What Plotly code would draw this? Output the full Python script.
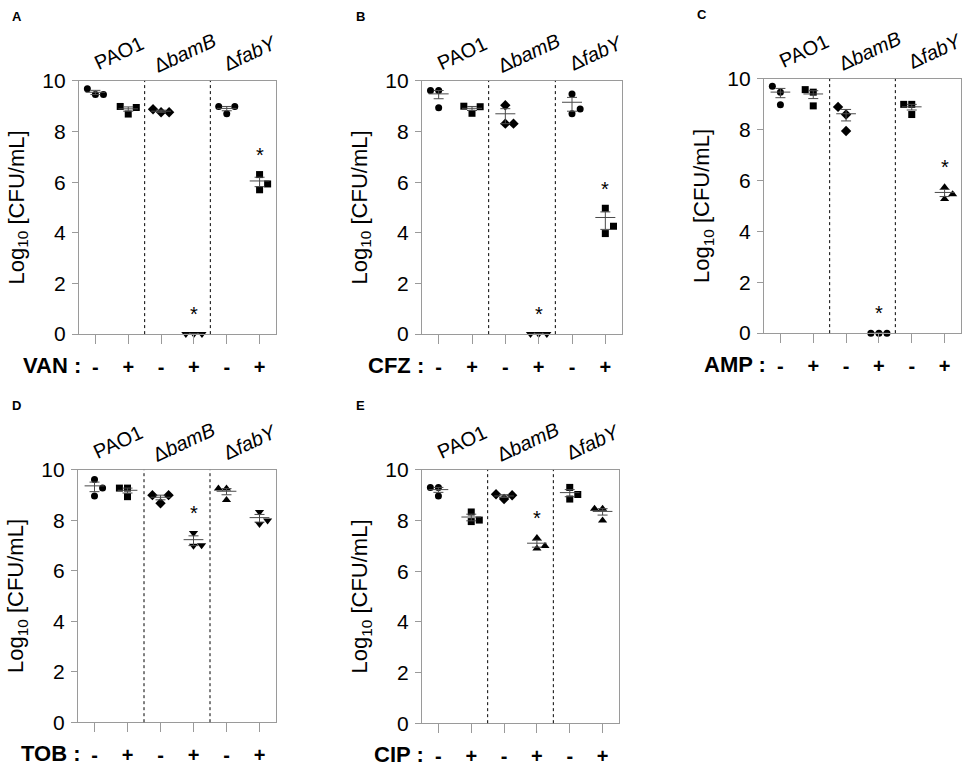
import numpy as np
import plotly.graph_objects as go

# ---- data (log10 CFU/mL, three replicates per group) ----
strains = ["PAO1", "Δ<i>bamB</i>", "Δ<i>fabY</i>"]
treat_labels = ["-", "+", "-", "+", "-", "+"]
drugs = ["VAN", "CFZ", "AMP", "TOB", "CIP"]
panel_letters = ["A", "B", "C", "D", "E"]

van = [[9.69, 9.46, 9.46], [8.99, 8.69, 8.95], [8.88, 8.76, 8.76],
       [0.0, 0.0, 0.0], [8.99, 8.70, 8.99], [6.30, 5.93, 5.70]]
cfz = [[9.62, 9.62, 8.94], [9.00, 8.72, 8.98], [9.04, 8.31, 8.31],
       [0.0, 0.0, 0.0], [9.48, 8.89, 8.70], [4.97, 4.26, 3.97]]
amp = [[9.71, 9.48, 8.98], [9.58, 9.48, 8.94], [8.90, 8.60, 7.95],
       [0.0, 0.0, 0.0], [9.00, 9.00, 8.60], [5.74, 5.28, 5.46]]
tob = [[9.62, 9.28, 8.97], [9.28, 9.28, 8.94], [9.00, 8.68, 9.00],
       [7.50, 6.99, 7.01], [9.26, 9.26, 8.81], [8.33, 7.86, 8.00]]
cip = [[9.31, 9.31, 8.97], [8.34, 7.96, 8.02], [9.04, 8.85, 9.00],
       [7.31, 6.90, 7.00], [9.31, 8.85, 9.03], [8.47, 8.47, 8.00]]

# groups marked with * (index into the six groups)
van_sig = [3, 5]
cfz_sig = [3, 5]
amp_sig = [3, 5]
tob_sig = [3]
cip_sig = [3]

panel_data = [van, cfz, amp, tob, cip]
panel_sig = [van_sig, cfz_sig, amp_sig, tob_sig, cip_sig]

# ---- styling ----
FONT = "Arial, Liberation Sans, sans-serif"
W, H = 964, 772
FRAME = "#9a9a9a"

# plot boxes in pixels: (left, right, top, bottom)
boxes = [(79, 276, 71, 332), (422, 622, 71, 332), (764, 961, 69, 331),
         (78, 276, 472, 732), (422, 619, 472, 733)]

symbols = [
    ["circle", "square", "diamond", "triangle-down", "circle", "square"],
    ["circle", "square", "diamond", "triangle-down", "circle", "square"],
    ["circle", "square", "diamond", "circle", "square", "triangle-up"],
    ["circle", "square", "diamond", "triangle-down", "triangle-up", "triangle-down"],
    ["circle", "square", "diamond", "triangle-up", "square", "triangle-up"],
]
sym_size = {"circle": 7, "square": 7, "diamond": 8,
            "triangle-up": 8, "triangle-down": 8}


def spread(vals, d=0.245, gap=0.33):
    """Simple beeswarm: keep points centred unless they would overlap."""
    order = sorted(range(len(vals)), key=lambda i: vals[i])
    placed, offs = [], [0.0] * len(vals)
    for rank, i in enumerate(order):
        prefs = [0.0, d, -d] if rank < 2 else [0.0, -d, d]
        for o in prefs:
            if all(abs(o - po) > 1e-9 or abs(vals[i] - pv) >= gap
                   for po, pv in placed):
                break
        offs[i] = o
        placed.append((o, vals[i]))
    return offs


def summary(vals):
    """Mean ± SEM on the CFU scale, returned as log10 values."""
    cfu = 10.0 ** np.asarray(vals)
    m = cfu.mean()
    s = cfu.std(ddof=1) / np.sqrt(len(cfu))
    lo = max(m - s, 1.0)
    return np.log10(m), np.log10(m + s), np.log10(lo)


fig = go.Figure()
annotations, shapes = [], []

for p, (data, sig) in enumerate(zip(panel_data, panel_sig)):
    n = p + 1
    xa = "x" if n == 1 else f"x{n}"
    ya = "y" if n == 1 else f"y{n}"
    xd = f"{xa} domain"
    yd = f"{ya} domain"

    # points
    for g, vals in enumerate(data):
        offs = spread(vals)
        sym = symbols[p][g]
        fig.add_trace(go.Scatter(
            x=[g + o for o in offs], y=vals, xaxis=xa, yaxis=ya,
            mode="markers", cliponaxis=False,
            marker=dict(symbol=sym, size=sym_size[sym], color="black",
                        line=dict(width=0)),
            hoverinfo="y",
        ))

    # mean line + SEM bars
    mx, my = [], []
    ex, ey, eup, edn = [], [], [], []
    for g, vals in enumerate(data):
        m, up, lo = summary(vals)
        mx += [g - 0.3, g + 0.3, None]
        my += [m, m, None]
        ex.append(g)
        ey.append(m)
        eup.append(up - m)
        edn.append(m - lo)
    fig.add_trace(go.Scatter(
        x=mx, y=my, xaxis=xa, yaxis=ya, mode="lines", cliponaxis=False,
        line=dict(color="#4a4a4a", width=1), hoverinfo="skip",
    ))
    fig.add_trace(go.Scatter(
        x=ex, y=ey, xaxis=xa, yaxis=ya, mode="markers", cliponaxis=False,
        marker=dict(size=1, color="rgba(0,0,0,0)"),
        error_y=dict(type="data", symmetric=False, array=eup, arrayminus=edn,
                     width=5, thickness=1, color="#4a4a4a"),
        hoverinfo="skip",
    ))

    # significance stars
    for g in sig:
        annotations.append(dict(
            text="*", xref=xa, yref=ya, x=g, y=max(data[g]) + 0.78,
            xanchor="center", yanchor="middle", showarrow=False,
            font=dict(family=FONT, size=20, color="black"),
        ))

    # dotted separators between strains
    for xs in (1.5, 3.5):
        shapes.append(dict(type="line", xref=xa, yref=yd, x0=xs, x1=xs,
                           y0=0, y1=1, line=dict(color="black", width=1,
                                                 dash="dot")))

    # strain labels above
    for k, name in enumerate(strains):
        annotations.append(dict(
            text=name, xref=xa, yref=yd, x=2 * k + 0.5, y=1,
            xshift=7, yshift=28, xanchor="center", yanchor="middle",
            textangle=-25, showarrow=False,
            font=dict(family=FONT, size=20, color="black"),
        ))

    # y title
    annotations.append(dict(
        text="Log<sub>10</sub> [CFU/mL]", xref=xd, yref=yd, x=0, y=0.5,
        xshift=-61, textangle=-90, showarrow=False,
        xanchor="center", yanchor="middle",
        font=dict(family=FONT, size=22, color="black"),
    ))

    # drug label
    annotations.append(dict(
        text=f"<b>{drugs[p]} :</b>", xref=xd, yref=yd, x=0, y=0,
        xshift=4, yshift=-31, xanchor="right", yanchor="middle",
        showarrow=False, font=dict(family=FONT, size=22, color="black"),
    ))

    # panel letter
    annotations.append(dict(
        text=f"<b>{panel_letters[p]}</b>", xref=xd, yref=yd, x=0, y=1,
        xshift=-62, yshift=64, xanchor="center", yanchor="middle",
        showarrow=False, font=dict(family=FONT, size=13, color="black"),
    ))

    l, r, t, b = boxes[p]
    fig.update_layout({
        f"xaxis{'' if n == 1 else n}": dict(
            domain=[l / W, r / W], anchor=ya, range=[-0.5, 5.5],
            tickvals=list(range(6)),
            ticktext=[f"<b>{s}</b>" for s in treat_labels],
            ticks="outside", ticklen=9, tickcolor=FRAME, tickwidth=1,
            ticklabelstandoff=6,
            showline=True, mirror=True, linecolor=FRAME, linewidth=1.2,
            showgrid=False, zeroline=False, fixedrange=True,
            tickfont=dict(family=FONT, size=20, color="black"),
        ),
        f"yaxis{'' if n == 1 else n}": dict(
            domain=[1 - b / H, 1 - t / H], anchor=xa, range=[0, 10],
            tickvals=[0, 2, 4, 6, 8, 10],
            ticks="outside", ticklen=6, tickcolor=FRAME, tickwidth=1,
            ticklabelstandoff=2,
            showline=True, mirror=True, linecolor=FRAME, linewidth=1.2,
            showgrid=False, zeroline=False, fixedrange=True,
            tickfont=dict(family=FONT, size=21, color="black"),
        ),
    })

fig.update_layout(
    width=W, height=H, margin=dict(l=0, r=0, t=0, b=0),
    paper_bgcolor="white", plot_bgcolor="white", showlegend=False,
    annotations=annotations, shapes=shapes,
    font=dict(family=FONT, color="black"),
)

# page body has a default 8px margin; drop it so the figure fills the window
fig.write_html(
    "out.html",
    config={"displayModeBar": False},
    post_script="document.body.style.margin='0';"
                "document.body.style.overflow='hidden';",
)
